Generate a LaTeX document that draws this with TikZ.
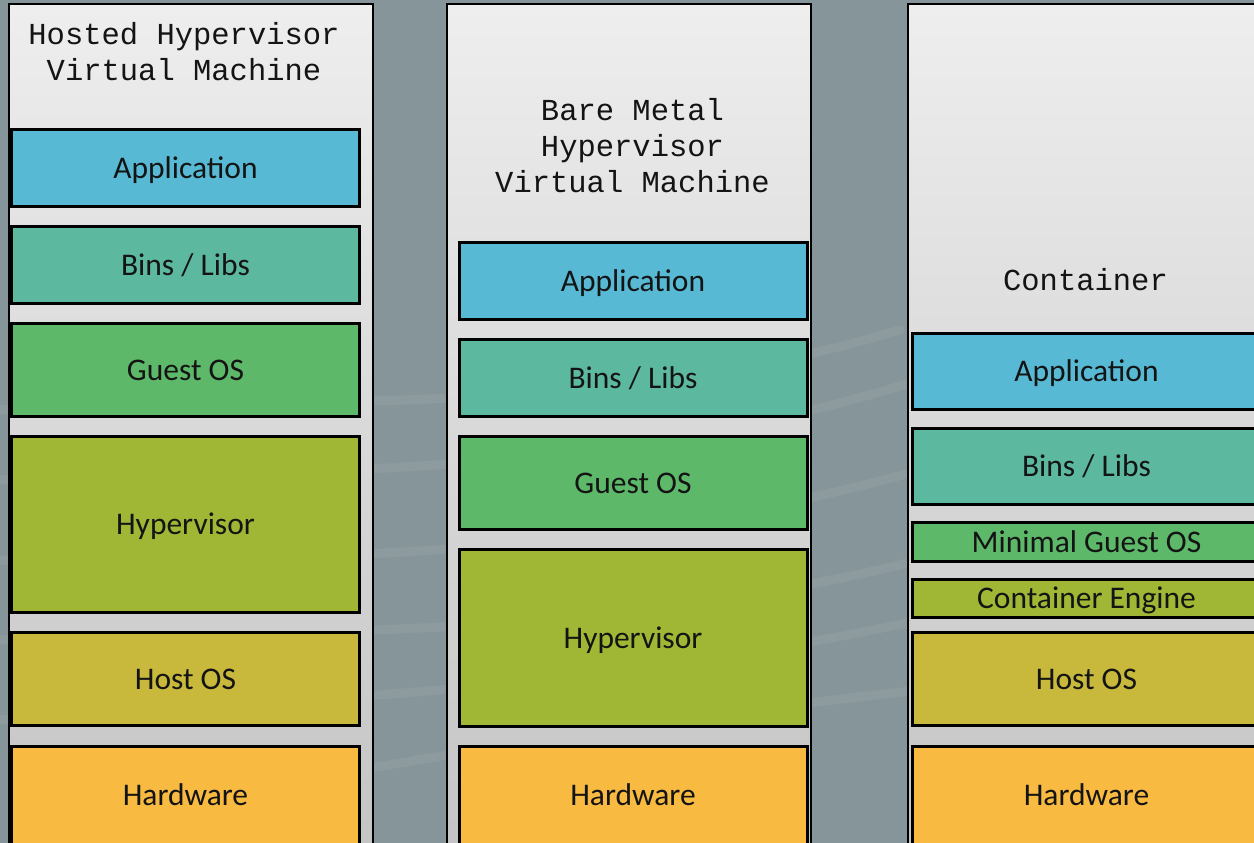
\documentclass[tikz,border=0pt]{standalone}
\usepackage{fontspec}
\newfontfamily\titlefont{Liberation Mono}
\newfontfamily\labelfont{Carlito}
\definecolor{bgc}{HTML}{86959A}
\definecolor{appc}{HTML}{58B9D4}
\definecolor{binc}{HTML}{5CB99F}
\definecolor{guestc}{HTML}{5DB869}
\definecolor{hypc}{HTML}{A0B736}
\definecolor{hostc}{HTML}{C8B93D}
\definecolor{hwc}{HTML}{F8BA41}
\definecolor{paneltop}{HTML}{EEEEEE}
\definecolor{panelbot}{HTML}{C3C3C3}
\definecolor{inkc}{HTML}{141414}
\begin{document}
\begin{tikzpicture}[x=1pt,y=-1pt,
  panel/.style={draw=black, line width=2pt, top color=paneltop, bottom color=panelbot},
  labeltext/.style={text=inkc, inner sep=0pt, text height=20pt, text depth=0pt,
    font=\labelfont\fontsize{31.5}{36}\selectfont},
  layer/.style={labeltext, draw=black, line width=3pt, minimum width=348pt},
  title/.style={align=center, text=inkc, inner sep=0pt,
    font=\titlefont\fontsize{30.5}{36}\selectfont},
  streak/.style={white, opacity=0.06, line width=9pt, line cap=round}]
\useasboundingbox (0,0) rectangle (1254,843);
\clip (0,0) rectangle (1254,843);
\fill[bgc] (0,0) rectangle (1254,843);
% faint background streaks
\draw[streak] (0,410) .. controls (300,395) and (600,420) .. (900,330);
\draw[streak] (0,480) .. controls (300,470) and (600,480) .. (920,380);
\draw[streak] (0,560) .. controls (300,560) and (600,560) .. (920,470);
\draw[streak] (0,640) .. controls (300,630) and (600,640) .. (920,560);
\draw[streak] (0,720) .. controls (300,700) and (600,690) .. (920,620);
\draw[streak] (200,800) .. controls (400,760) and (650,720) .. (920,690);
% panels
\path[panel] (8.5,4.5) rectangle (372.5,870);
\path[panel] (446.5,4.5) rectangle (810.5,870);
\path[panel] (907.5,4.5) rectangle (1271.5,870);
% titles
\node[title] (t1) at (184,52) {Hosted Hypervisor\\Virtual Machine};
\node[title] (t2) at (632.5,146) {Bare Metal\\Hypervisor\\Virtual Machine};
\node[title] (t3) at (1085.5,280) {Container};
% column 1
\node[layer, fill=appc,   minimum height=77pt]  (a1) at (185.5,168)   {Application};
\node[layer, fill=binc,   minimum height=77pt]  (b1) at (185.5,265)   {Bins / Libs};
\node[layer, fill=guestc, minimum height=93pt]  (g1) at (185.5,370)   {Guest OS};
\node[layer, fill=hypc,   minimum height=176pt] (v1) at (185.5,524.5) {Hypervisor};
\node[layer, fill=hostc,  minimum height=93pt]  (o1) at (185.5,679)   {Host OS};
\node[layer, fill=hwc,    minimum height=120pt] (w1) at (185.5,806.5) {};
\node[labeltext] (wl1) at (185.5,795) {Hardware};
% column 2
\node[layer, fill=appc,   minimum height=77pt]  (a2) at (633,281)   {Application};
\node[layer, fill=binc,   minimum height=77pt]  (b2) at (633,378)   {Bins / Libs};
\node[layer, fill=guestc, minimum height=93pt]  (g2) at (633,483)   {Guest OS};
\node[layer, fill=hypc,   minimum height=177pt] (v2) at (633,638)   {Hypervisor};
\node[layer, fill=hwc,    minimum height=120pt] (w2) at (633,806.5) {};
\node[labeltext] (wl2) at (633,795) {Hardware};
% column 3
\node[layer, fill=appc,   minimum height=76pt]  (a3) at (1086.5,371.5) {Application};
\node[layer, fill=binc,   minimum height=76pt]  (b3) at (1086.5,466.5) {Bins / Libs};
\node[layer, fill=guestc, minimum height=39pt]  (g3) at (1086.5,542)   {Minimal Guest OS};
\node[layer, fill=hypc,   minimum height=38pt]  (e3) at (1086.5,598.5) {Container Engine};
\node[layer, fill=hostc,  minimum height=93pt]  (o3) at (1086.5,679)   {Host OS};
\node[layer, fill=hwc,    minimum height=120pt] (w3) at (1086.5,806.5) {};
\node[labeltext] (wl3) at (1086.5,795) {Hardware};
\end{tikzpicture}
\end{document}
